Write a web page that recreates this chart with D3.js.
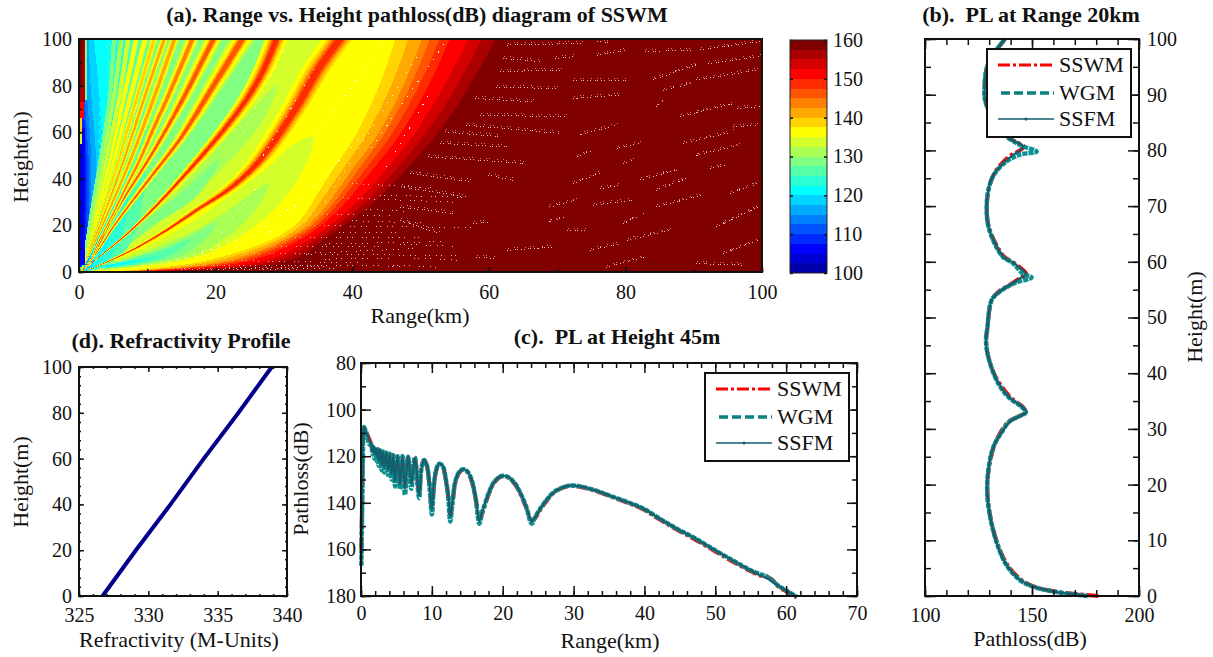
<!DOCTYPE html>
<html>
<head>
<meta charset="utf-8">
<script src="https://cdn.jsdelivr.net/npm/d3@7/dist/d3.min.js"></script>
<style>
html,body{margin:0;padding:0;background:#fff;}
svg{display:block;}
text{font-family:"Liberation Serif",serif;fill:#111;}
.heat path,.heat rect,.heat line{shape-rendering:crispEdges;}
</style>
</head>
<body>
<script>
// jet(24) steps of the colourbar, low to high
const jetColors = ["#0000aa","#0000d4","#0000ff","#002bff","#0055ff","#0080ff","#00aaff","#00d4ff","#00ffff","#2bffd4","#55ffaa","#80ff80","#aaff55","#d4ff2b","#ffff00","#ffd400","#ffaa00","#ff8000","#ff5500","#ff2b00","#ff0000","#d40000","#aa0000","#800000"];

// panel (a): contour edges, range(km) where each dB level is reached at edgeHeights
const edgeHeights = [0.3,1,3,6.6,15,22,32,44,57,71,85,100];
const edgeLevels = [156.25,153.75,151.25,148.75,146.25,143.75,141.25,138.75,136.25];
const edgeRanges = [
  [12,17.7,27.5,32.3,36.3,39.7,44,47.9,51.8,55.3,58.2,61],
  [10.9,16.4,25.7,30.7,35.3,38.6,42.7,46.4,50.1,53.5,56.3,59],
  [9.9,15.1,24,29.1,34.3,37.6,41.4,44.9,48.6,51.7,54.4,57],
  [8.6,13.5,21.8,27.1,33,36.3,39.7,43,46.5,49.5,52,54.3],
  [7.8,12.5,20.5,26,32.2,35.6,38.7,41.9,45.3,48.2,50.6,52.8],
  [7.1,11.7,19.3,24.9,31.5,34.9,37.9,40.9,44.2,47,49.3,51.4],
  [6.5,11,18.3,24,30.9,34.3,37.1,40,43.3,46,48.2,50.2],
  [5.5,9.7,16.6,22.5,30,33.3,35.8,38.6,41.7,44.3,46.4,48.2],
  [4.5,8.5,15,21,29,32.3,34.6,37.2,40.2,42.6,44.6,46.3]
];

// closed lobes between the fringes [range, height]
const lobeLevels = [133.75,131.25,128.75,126.25,123.75,121.25,118.75];
const lobes = [
  [[1,0.3],[5.5,1.4],[12.8,3.6],[20,9.3],[27.4,23.6],[32.3,40.8],[34.3,58],[31.3,54.6],[27.5,44.6],[22.6,33.8],[17.7,23.8],[12,14],[7,7],[3,2.5]],
  [[3,1.2],[9,2.8],[15,5.5],[18,8.5],[23.6,19.5],[27,32],[27.7,38],[22.6,28],[17.7,19],[12,11.5],[7,6],[3,2.5]],
  [[4,1.5],[10,3.7],[15,7],[18.5,14],[20,21],[17,16.5],[12,10],[7,5.3],[3,2]],
  [[4,1.8],[9,3.5],[13,6.5],[16.4,14],[13,10],[9,6.8],[5,3.5],[2.5,1.7]],
  [[3,1.7],[8,3.5],[12,7],[8,5],[4,2.6]],
  [[2.5,1.6],[6,3],[9,5],[6,4],[3,2.2]],
  [[2,1.4],[3.5,2.3],[5,3.2],[3.5,2.8]]
];
// lobes in the gap between the two outer fringes
const gapLobeLevels = [131.25,128.75];
const gapLobes = [
  [[1.5,2],[4.4,8],[8.7,20],[14.5,35],[19.2,50],[23.9,65],[28.9,80],[26.9,65],[22.8,50],[17.7,35],[11.1,20],[5.6,8]],
  [[3,6],[8.9,20],[14.5,33],[20.6,48.7],[17.4,33],[10.9,20],[4.2,6]]
];

// cold wedge near the source, right edge per height
const coldHeights = [0,2,10,25,50,75,100];
const coldLevels = [126.25,123.75,121.25,118.75,116.25,113.75,111.25,108.75];
const coldRanges = [
  [0.3,3.5,7,9,10,10,10],
  [0.3,3,5.5,7,7.5,7.5,7.5],
  [0.3,2.5,4,5,5.3,5,4.8],
  [0.2,1.7,2.5,3.2,3.5,3,2.2],
  [0.2,1,1.8,2.2,2.5,1.8,1.4],
  [0.1,0.7,1.4,1.7,1.8,1.2,0.9],
  [0.1,0.5,1.2,1.4,1.4,0.8,0.7],
  [0.1,0.3,1,1.1,1.1,0.6,0.5]
];
// left strip, near vertical
const stripLevels = [128.75,133.75,106.25,103.75,136.25,133.75,138.75,151.25,156.25,158.75];
const stripRanges = [1.1,0.95,0.9,0.6,0.3,0.45,0.5,0.7,0.85,0.55];
const stripLow = [74,74,3,10,0,55,60,66,73,80];
const stripHigh = [100,100,62,55,2,60,66,73,100,100];

// scallops of the closest fringes
const scallopHeights = [6,10,14,18,22,26,30,34,38,42,46,50,54,58,62,66,70,74,78,82,86,90,94,98];
const scallopInner = [2,2.3,2.5,2.7,2.9,3,3.1,3.2,3.3,3.3,3.4,3.4,3.4,3.4,3.4,3.4,3.4,3.4,3.4,3.3,3.3,3.2,3.2,3.1];
const scallopOuter = [2.9,3.2,3.5,3.8,4,4.2,4.3,4.4,4.5,4.6,4.6,4.7,4.7,4.7,4.7,4.7,4.7,4.7,4.6,4.6,4.6,4.5,4.5,4.4];

// null fringes [range, height, half width km]
const ridges = [
  [[0.6,0,0.1],[5,5.5,0.4],[8.5,10.5,0.6],[13.3,18.8,0.85],[17.7,27.5,1.2],[21,33.5,1.5],[24,40.5,1.8],[26.5,48,2.1],[28.9,57.5,2.4],[32.3,73,2.7],[34.8,86,2.9],[38.2,100,3.1]],
  [[0.5,0,0.1],[1.6,3.2,0.12],[3.6,8,0.22],[6,13.7,0.32],[8.4,20,0.42],[11.4,28.7,0.6],[14.8,39.4,0.8],[17.7,48.9,1.1],[21.2,61,1.35],[24.5,73.9,1.6],[26.9,86,1.8],[28.9,100,2]],
  [[0.4,0,0.08],[0.8,1.4,0.08],[2.5,7.9,0.15],[5,19.3,0.28],[7.9,30.8,0.4],[11.3,43.7,0.55],[14.7,56.6,0.75],[17.2,68,1],[19.6,79.5,1.2],[21.4,88,1.35],[23.9,100,1.5]],
  [[0.4,0,0.06],[2,6.4,0.12],[4,17.9,0.22],[6.4,30.8,0.33],[8.9,42.3,0.45],[11.3,53.7,0.58],[13.8,66.6,0.75],[15.7,77,0.9],[17.7,88.5,1],[19.7,100,1.1]],
  [[0.3,0,0.05],[1.2,2.1,0.08],[3,13.6,0.16],[5,25,0.25],[6.9,36.5,0.34],[8.9,48,0.44],[10.8,60.9,0.55],[12.8,73.8,0.65],[14.7,86.7,0.72],[16.6,100,0.8]],
  [[0.3,0,0.05],[4.2,25,0.25],[7.8,50,0.4],[11,75,0.5],[14,100,0.55]],
  [[0.3,0,0.05],[3.7,25,0.2],[6.8,50,0.32],[9.6,75,0.4],[12.5,100,0.45]],
  [[0.3,0,0.04],[3.3,25,0.18],[6,50,0.28],[8.5,75,0.35],[11,100,0.4]],
  [[0.3,0,0.04],[2.9,25,0.16],[5.3,50,0.24],[7.5,75,0.3],[9.7,100,0.33]],
  [[0.3,0,0.03],[2.6,25,0.14],[4.7,50,0.21],[6.6,75,0.27],[8.4,100,0.3]],
  [[0.3,0,0.03],[2.3,25,0.12],[4.1,50,0.19],[5.9,75,0.24],[7.2,100,0.26]],
  [[0.3,0,0.03],[2,25,0.11],[3.6,50,0.17],[5.1,75,0.21],[6.2,100,0.23]],
  [[0.3,0,0.03],[1.7,25,0.1],[3.2,50,0.15],[4.5,75,0.19],[5.1,100,0.2]]
];
const ridgePeak = [148.75,148.75,146.25,146.25,143.75,141.25,141.25,138.75,136.25,136.25,133.75,131.25,128.75];
const ridgeFloor = [136.25,136.25,131.25,131.25,131.25,131.25,131.25,128.75,128.75,126.25,126.25,123.75,123.75];
const haloLevels = [123.75,126.25,128.75,131.25,133.75,136.25,138.75,141.25,143.75,146.25,148.75];
const haloWidth = [1.5,1.45,1.4,1.3,1.1,0.85,0.6,0.46,0.35,0.27,0.18];

// white NaN speckle streaks [r1,h1,r2,h2]
const speckDark = [
  [62.6,97.4,73.8,98.1],[75.8,98.9,77.5,98.4],[62.1,91.7,67.5,90.3],[69.7,91.7,72.8,92.4],[61.6,86,70.9,86.7],[75.8,93,80.2,95.3],
  [82.8,94.6,90.1,95.3],[91,95.3,99.7,98.9],[84,82.4,90.9,89.5],[92.1,89.5,99.7,92.4],[85.5,78,89.9,81],[90.4,82.4,99.4,86.7],
  [61.1,79.2,70.4,78.8],[72.4,82.4,80.2,82.4],[58,74.5,66.5,73],[72.4,74.5,79.3,75.9],[84.5,70.9,85.5,73],[88,66.6,95.8,72.3],
  [96.3,70.2,99.7,70.9],[58.7,67.3,71.4,66.6],[56.7,63,70.4,59.5],[73,58.7,78.7,63],[88.4,55.2,95.8,60.2],[95.8,62.3,99.2,63],
  [53.6,60.2,61.6,58],[52.8,55.2,62.6,53.7],[78.7,53,82.1,55.2],[90.4,50.1,96.7,54.4],[51.1,49.4,65.5,46.6],[72.9,49.4,75.3,52.3],
  [79.7,46.6,81.1,48],[59.9,41.5,63.6,39.4],[48.4,42.3,57.7,38.7],[72.3,38,76.7,43],[82.1,39.4,87.5,43.7],[92.4,44.4,94.6,45.8],
  [47.2,36.5,56.7,32.2],[76.3,35.8,79.3,37.2],[84.5,35.1,88.9,40.1],[95.3,33.7,99.4,38],[68.9,27.9,72.8,30.8],[75.3,28.7,81.1,30.8],
  [84.5,27.9,91.3,33],[47,27.9,54.8,25.1],[57.7,20.8,60.2,21.5],[68.9,21.5,71.3,23.6],[79.7,20.8,82.7,25.1],[93.3,19.3,99.4,27.9],
  [71.4,17.9,74.3,17.9],[80.2,13.6,86.5,17.9],[47,22.2,52.8,16.5],[74.8,9.3,79.2,12.2],[94.3,7.9,99.4,13.6],[58.2,6.4,61.1,5.7],
  [62.6,9.3,69.9,10.7],[77.2,2.1,82.7,6.4],[90.4,3.6,97.7,2.9]
];
// sparser scatter over the warm bands low down
const speckLow = [
  [40,38,52,36],[37,32,55,30],[34,25,46,24],[32,20,58,19],[30,15,50,15],[28,11,44,11],[24,8,56,7],[20,5,41,4],[12,3,35,3],[10,1.5,38,1.5],
  [33,8,49,10],[36,12,53,13],[38,17,47,17],[40,22,51,21],[42,27,48,26],[44,33,57,32],[30,3,47,2.5],[36,5.5,46,6],[15,1,32,1],[22,2,37,2.2],[47,12,55,11],[49,6,56,5],[46,3,53,2]
];
const speckWarm = [
  [18,8,28,22],[22,8,33,32],[28,17,42,60],[36,30,50,95],[42,50,54,100],[35,60,45,100],[27,50,35,90],[13,4,24,14],[8,2,20,8],[45,45,52,80],[20,14,27,40],[24,60,30,95]
];

// panel (b): PL at range 20 km
const heightsB = [0,0.8,1.7,2.9,5.6,9.5,14.3,18.4,22.6,26.8,28.9,31.3,32.3,33,34,35.5,37.3,40,43.6,46,48,53.2,54.7,56.2,57.2,57.8,59.8,60.9,63.3,66.4,69.3,72.9,75.6,77.7,79.2,79.8,80.7,81.6,82.5,85,87,89.4,91.5,92.7,95,97,98.1,100];
const ssfmB = [177,160,150.6,144.4,138,133.5,130.4,129.1,129.6,132,135,139.7,144.4,147.2,145.2,139.7,135.8,132,129.1,128.5,129.1,131.2,135,141.2,145,147.2,141.2,136.6,132.7,129.6,128.8,129.6,132,136.6,141.2,143.5,146,141.9,138.2,134,130,127.9,127.9,128,129,131.5,133.5,137.4];
const wgmB = [176,160,150.4,144.2,138,133.6,130.4,129.1,129.6,132,135,139.4,144.2,147.2,145,139.6,135.6,132,129.2,128.5,129.1,131.2,135.2,142,149.8,146,141,136.4,132.5,129.6,128.8,129.6,132.2,137,144,152.2,146,141.6,138,134,130,127.9,127.9,128,129,131.5,133.5,137.4];
const sswmB = [181,161,151,145,138.5,133.8,130.5,129.2,129.7,132.2,134.6,139,144,147,145.6,140.4,136.4,132.2,129.2,128.6,129.1,131.3,134.6,141,145,147.4,141.6,137,133,129.7,128.9,129.7,132,136,140.4,143.5,146.2,142.2,138.6,134,130,127.9,127.9,128,129,131.5,133.5,137.4];

// panel (c): PL at height 45 m
const rangeC = [0.05,0.1,0.15,0.2,0.25,0.3,0.42,0.8,1.2,1.45,1.6,1.75,1.9,2.05,2.2,2.35,2.5,2.7,2.9,3.1,3.3,3.55,3.8,4.05,4.3,4.55,4.8,5.15,5.5,5.85,6.2,6.65,7.1,7.6,8.2,8.5,8.9,9.3,9.7,10,10.3,10.6,11,11.5,12,12.3,12.6,12.9,13.3,13.8,14.4,15,15.6,16.2,16.7,17.1,17.6,18.2,18.8,19.8,20.8,21.8,22.6,23.3,24.1,24.6,25.2,26,27,28,29.5,31,33,35,37,39.8,42,44.5,47,49.95,52.5,54.9,56.5,57.3,58,59,60,61.5];
const ssfmC = [166,155,145,133,122,113,107.5,110,113.5,115,118,116,119,116.5,120,117,122,117.5,124,118,125,118.5,126,119,128,119.5,131,120,132,120,134,120.2,132,120.5,137,126,121.6,124,133,143,132,126,123.3,124,130,136,146,140,131,127,125.6,126.5,130,138,148,144,139.5,134.5,131,128.5,129,132,136.5,141.5,148,146,143,139.5,136,134,132.6,133,134.6,136.8,139,142.4,146.5,151,155,160.3,164.8,168.8,171.3,172.4,173.8,175.8,177.6,180.3];
const wgmC = [167,156,146,134,123,114,107.5,110.5,115,115,119,116,121,116.5,122,117,124,117.5,126,118,127,118.5,128,119,130,119.5,133,120,134,120,136.6,120.2,134,120.5,138,126,121.6,124,134,145,132,126,123.3,124,130.5,137,148,140,131,127,125.6,126.5,130,138.5,149,144,139.5,134.5,131,128.5,129,132,136.5,141.5,149,146,143,139.5,136,134,132.6,133,134.6,136.8,139,142.4,146.5,151,155,160.3,164.8,168.8,170.8,171.6,173.2,175.8,177.6,180.3];
const sswmC = [160,150,140,128,118,111,108,110,113,115,117.5,116,118.5,116.5,120,117,122,117.5,123.5,118,125,118.5,126,119,128,119.5,130,120,132,120,133,120.2,131,120.5,136,126,121.8,124.4,133.6,142,132.6,126.4,123.5,124.4,131,137,145,140.6,131.6,127.4,125.8,126.8,130.6,138.6,147,144.6,140,135,131.4,128.7,129.2,132.4,137,142,147.5,146.5,143.5,140,136.2,134.2,132.7,133.2,134.8,137,139.3,142.8,146.9,151.4,155.5,160.8,165.3,169.2,171.4,171.9,173,176.2,178,180.6];

// panel (d): refractivity
const refrHeights = [0,20,40,60,80,100];
const refrValues = [326.7,329.1,331.6,334,336.5,338.9];

const legendNames = ["SSWM","WGM","SSFM"];

const svg = d3.select("body").append("svg").attr("width",1213).attr("height",657);

const plColor = d3.scaleQuantize().domain([100,160]).range(jetColors);

// axis helper: draws major and minor inward ticks, labels only if asked
function ticks(g,axisFn,scale,tx,ty,values,minor,majorLen,minorLen,labels){
  const a = g.append("g").attr("transform","translate("+tx+","+ty+")")
     .call(axisFn(scale).tickValues(minor).tickSize(-minorLen).tickFormat(""));
  a.select(".domain").remove();
  a.selectAll("line").attr("stroke","#111").attr("stroke-width",1.5);
  const b = g.append("g").attr("transform","translate("+tx+","+ty+")")
     .call(axisFn(scale).tickValues(values).tickSize(-majorLen).tickPadding(labels||6).tickFormat(labels?d3.format("d"):""));
  b.select(".domain").remove();
  b.selectAll("line").attr("stroke","#111").attr("stroke-width",1.5);
  b.selectAll("text").attr("font-size",20).attr("font-family","Liberation Serif").attr("fill","#111");
}

function title(txt,x,y){
  svg.append("text").attr("x",x).attr("y",y).attr("text-anchor","middle")
     .attr("font-size",22).attr("font-weight","bold").text(txt);
}
function label(txt,x,y,rot){
  const t = svg.append("text").attr("text-anchor","middle").attr("font-size",22).text(txt);
  if(rot) t.attr("transform","translate("+x+","+y+") rotate(-90)");
  else t.attr("x",x).attr("y",y);
}
function frame(g,x0,y0,w,h){
  g.append("rect").attr("x",x0).attr("y",y0).attr("width",w).attr("height",h)
   .attr("fill","none").attr("stroke","#111").attr("stroke-width",2);
}

// ---- panel (a)
const xA = d3.scaleLinear().domain([0,100]).range([79,762]);
const yA = d3.scaleLinear().domain([0,100]).range([272,39]);

svg.append("clipPath").attr("id","clipA").append("rect")
   .attr("x",79).attr("y",39).attr("width",683).attr("height",233);
const heat = svg.append("g").attr("class","heat").attr("clip-path","url(#clipA)");

heat.append("rect").attr("x",79).attr("y",39).attr("width",683).attr("height",233).attr("fill",plColor(158.75));

const smooth = d3.line().x(d=>xA(d[0])).y(d=>yA(d[1])).curve(d3.curveCatmullRom);
const blob = d3.line().x(d=>xA(d[0])).y(d=>yA(d[1])).curve(d3.curveCatmullRomClosed);

// area left of a curve of [range,height]
function leftOf(pts){
  return smooth(pts)+"L"+xA(0)+","+yA(100)+"L"+xA(0)+","+yA(0)+"Z";
}
heat.selectAll("path.edge").data(edgeRanges).enter().append("path").attr("class","edge")
    .attr("d",r=>leftOf(r.map((v,i)=>[v,edgeHeights[i]])))
    .attr("fill",(r,i)=>plColor(edgeLevels[i]));

// base of fringe zone
const r1Line = ridges[0].map(d=>[d[0],d[1]]);
const r2Line = ridges[1].map(d=>[d[0],d[1]]);
heat.append("path").attr("d",leftOf(r1Line)).attr("fill",plColor(133.75));
heat.selectAll("path.gap").data(gapLobes).enter().append("path").attr("class","gap")
    .attr("d",d=>blob(d)).attr("fill",(d,i)=>plColor(gapLobeLevels[i]));
heat.append("path").attr("d",leftOf(r2Line)).attr("fill",plColor(128.75));
heat.selectAll("path.lobe").data(lobes).enter().append("path").attr("class","lobe")
    .attr("d",d=>blob(d)).attr("fill",(d,i)=>plColor(lobeLevels[i]));

heat.selectAll("path.cold").data(coldRanges).enter().append("path").attr("class","cold")
    .attr("d",r=>leftOf(r.map((v,i)=>[v,coldHeights[i]])))
    .attr("fill",(r,i)=>plColor(coldLevels[i]));

// scallops
[[scallopInner,121.25],[scallopOuter,123.75]].forEach(function(col){
  heat.selectAll(null).data(scallopHeights).enter().append("path")
      .attr("d",(h,i)=>smooth([[col[0][i]-0.5,h-1.9],[col[0][i],h],[col[0][i]-0.5,h+1.9]]))
      .attr("fill","none").attr("stroke",plColor(col[1])).attr("stroke-width",1.6);
});

// fringes, outer halo first
ridges.forEach(function(pts,i){
  haloLevels.forEach(function(level,j){
    if(level<ridgeFloor[i]||level>ridgePeak[i]) return;
    const k = haloWidth[j];
    const area = d3.area().x0(d=>xA(d[0]-d[2]*k)).x1(d=>xA(d[0]+d[2]*k)).y(d=>yA(d[1])).curve(d3.curveCatmullRom);
    heat.append("path").attr("d",area(pts)).attr("fill",plColor(level));
  });
});

// strip along the left edge
stripLevels.forEach(function(level,i){
  heat.append("rect").attr("x",xA(0)).attr("y",yA(stripHigh[i]))
      .attr("width",xA(stripRanges[i])-xA(0)).attr("height",yA(stripLow[i])-yA(stripHigh[i]))
      .attr("fill",plColor(level));
});

// speckle, two passes so the streaks break up into dots
[["1 2 1 4 1 1 1 3",0,0,1],["1 5 1 2 1 7",1,-2,0.7]].forEach(function(p){
  heat.selectAll(null).data(speckDark).enter().append("line")
      .attr("x1",d=>xA(d[0])+p[1]).attr("y1",d=>yA(d[1])+p[2]).attr("x2",d=>xA(d[2])+p[1]).attr("y2",d=>yA(d[3])+p[2])
      .attr("stroke","#e6bcbc").attr("stroke-width",1).attr("stroke-opacity",p[3]).attr("stroke-dasharray",p[0]);
});
heat.selectAll(null).data(speckLow).enter().append("line")
    .attr("x1",d=>xA(d[0])).attr("y1",d=>yA(d[1])).attr("x2",d=>xA(d[2])).attr("y2",d=>yA(d[3]))
    .attr("stroke","#e6bcbc").attr("stroke-width",1).attr("stroke-dasharray","1 3 1 6 1 4 1 9");
heat.selectAll(null).data(speckWarm).enter().append("line")
    .attr("x1",d=>xA(d[0])).attr("y1",d=>yA(d[1])).attr("x2",d=>xA(d[2])).attr("y2",d=>yA(d[3]))
    .attr("stroke","#fff").attr("stroke-width",1).attr("stroke-dasharray","1 8");

const gA = svg.append("g");
ticks(gA,d3.axisBottom,xA,0,272,d3.range(0,101,20),d3.range(0,101,10),5,3,13);
ticks(gA,d3.axisLeft,yA,79,0,d3.range(0,101,20),d3.range(0,101,10),5,3,7);
frame(gA,79,39,683,233);
title("(a). Range vs. Height pathloss(dB) diagram of SSWM",417,22);
label("Range(km)",420,323);
label("Height(m)",28,157,true);

// colorbar
const yBar = d3.scaleLinear().domain([100,160]).range([273,40]);
const barG = svg.append("g").attr("class","heat");
barG.selectAll("rect").data(jetColors).enter().append("rect")
    .attr("x",790).attr("width",37)
    .attr("y",(d,i)=>yBar(100+(i+1)*2.5)).attr("height",(d,i)=>yBar(100+i*2.5)-yBar(100+(i+1)*2.5))
    .attr("fill",d=>d);
const gBar = svg.append("g");
ticks(gBar,d3.axisRight,yBar,827,0,d3.range(100,161,10),[],3,0,6);
ticks(gBar,d3.axisLeft,yBar,790,0,d3.range(100,161,10),[],3,0);
gBar.append("rect").attr("x",790).attr("y",40).attr("width",37).attr("height",233).attr("fill","none").attr("stroke","#222").attr("stroke-width",1);

// legend shared by (b) and (c)
function legend(x0,y0){
  const g = svg.append("g");
  g.append("rect").attr("x",x0).attr("y",y0).attr("width",144).attr("height",88)
   .attr("fill","#fff").attr("stroke","#111").attr("stroke-width",2);
  const rows = [16,44,70];
  g.append("line").attr("x1",x0+11).attr("x2",x0+67).attr("y1",y0+rows[0]).attr("y2",y0+rows[0])
   .attr("stroke","#f00").attr("stroke-width",3).attr("stroke-dasharray","12 3 3 3");
  g.append("line").attr("x1",x0+14).attr("x2",x0+67).attr("y1",y0+rows[1]).attr("y2",y0+rows[1])
   .attr("stroke","#0a8080").attr("stroke-width",3.5).attr("stroke-dasharray","9 4");
  g.append("line").attr("x1",x0+11).attr("x2",x0+67).attr("y1",y0+rows[2]).attr("y2",y0+rows[2])
   .attr("stroke","#12606e").attr("stroke-width",1.5);
  g.append("circle").attr("cx",x0+39).attr("cy",y0+rows[2]).attr("r",1.6).attr("fill","#12606e");
  g.selectAll("text").data(legendNames).enter().append("text")
   .attr("x",x0+72).attr("y",(d,i)=>y0+rows[i]+7).attr("font-size",22).text(d=>d);
}

// ---- panel (b)
const xB = d3.scaleLinear().domain([100,200]).range([925,1139]);
const yB = d3.scaleLinear().domain([0,100]).range([596,39]);
const gB = svg.append("g");
const lineB = vals=>d3.line().x((d,i)=>xB(vals[i])).y(d=>yB(d)).curve(d3.curveCatmullRom)(heightsB);
gB.append("path").attr("d",lineB(sswmB)).attr("fill","none").attr("stroke","#f00").attr("stroke-width",4).attr("stroke-dasharray","12 3 3 3");
gB.append("path").attr("d",lineB(wgmB)).attr("fill","none").attr("stroke","#0f9090").attr("stroke-width",4.5).attr("stroke-dasharray","5 1");
gB.append("path").attr("d",lineB(ssfmB)).attr("fill","none").attr("stroke","#12606e").attr("stroke-width",2.2);
ticks(gB,d3.axisBottom,xB,0,596,[100,150,200],d3.range(100,201,10),10,6,12);
ticks(gB,d3.axisTop,xB,0,39,[100,150,200],d3.range(100,201,10),10,6);
ticks(gB,d3.axisLeft,yB,925,0,d3.range(0,101,10),d3.range(0,101,5),11,6);
ticks(gB,d3.axisRight,yB,1139,0,d3.range(0,101,10),d3.range(0,101,5),11,6,8);
frame(gB,925,39,214,557);
legend(987,49);
title("(b).\u00a0\u00a0PL at Range 20km",1031,22);
label("Pathloss(dB)",1030,646);
label("Height(m)",1202,317,true);

// ---- panel (d)
const xD = d3.scaleLinear().domain([325,340]).range([79,287]);
const yD = d3.scaleLinear().domain([0,100]).range([596,367]);
const gD = svg.append("g");
gD.append("path").attr("d",d3.line().x((d,i)=>xD(refrValues[i])).y(d=>yD(d))(refrHeights))
  .attr("fill","none").attr("stroke","#00008b").attr("stroke-width",4);
ticks(gD,d3.axisBottom,xD,0,596,d3.range(325,341,5),d3.range(325,341,1),5,2,12);
ticks(gD,d3.axisTop,xD,0,367,d3.range(325,341,5),d3.range(325,341,1),5,2);
ticks(gD,d3.axisLeft,yD,79,0,d3.range(0,101,20),d3.range(0,101,4),5,2,7);
ticks(gD,d3.axisRight,yD,287,0,d3.range(0,101,20),d3.range(0,101,4),5,2);
frame(gD,79,367,208,229);
title("(d). Refractivity Profile",181,348);
label("Refractivity (M-Units)",179,647);
label("Height(m)",28,482,true);

// ---- panel (c)
const xC = d3.scaleLinear().domain([0,70]).range([361,857]);
const yC = d3.scaleLinear().domain([80,180]).range([363,596]);
const gC = svg.append("g");
const lineC = vals=>d3.line().x((d,i)=>xC(rangeC[i])).y((d,i)=>yC(vals[i])).curve(d3.curveCatmullRom)(rangeC);
gC.append("path").attr("d",lineC(sswmC)).attr("fill","none").attr("stroke","#f00").attr("stroke-width",4).attr("stroke-dasharray","12 3 3 3");
gC.append("path").attr("d",lineC(wgmC)).attr("fill","none").attr("stroke","#0f9090").attr("stroke-width",4.5).attr("stroke-dasharray","5 1");
gC.append("path").attr("d",lineC(ssfmC)).attr("fill","none").attr("stroke","#12606e").attr("stroke-width",2.2);
ticks(gC,d3.axisBottom,xC,0,596,d3.range(0,71,10),d3.range(0,71,2),10,5,10);
ticks(gC,d3.axisTop,xC,0,363,d3.range(0,71,10),d3.range(0,71,2),10,5);
ticks(gC,d3.axisLeft,yC,361,0,d3.range(80,181,20),d3.range(80,181,10),10,5,5);
ticks(gC,d3.axisRight,yC,857,0,d3.range(80,181,20),d3.range(80,181,10),10,5);
frame(gC,361,363,496,233);
legend(705,373);
title("(c).\u00a0\u00a0PL at Height 45m",617,344);
label("Range(km)",610,648);
label("Pathloss(dB)",308,479,true);
</script>
</body>
</html>
